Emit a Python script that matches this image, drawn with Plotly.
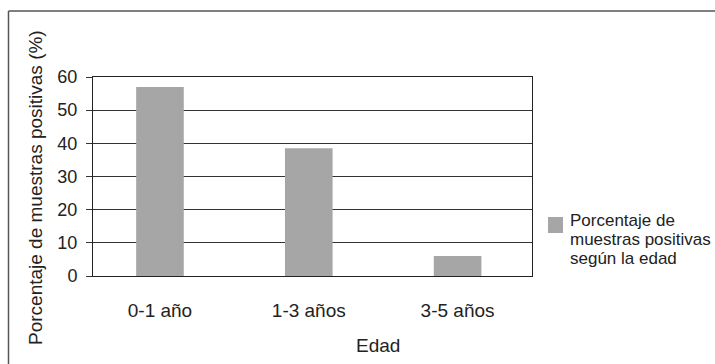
import plotly.graph_objects as go

categories = ["0-1 año", "1-3 años", "3-5 años"]
values = [57, 38.5, 6]
legend_lines = ["Porcentaje de", "muestras positivas", "según la edad"]
y_ticks = [0, 10, 20, 30, 40, 50, 60]

W, H = 715, 364
L, R, T, B = 93, 183, 77, 88
pw, ph = W - L - R, H - T - B

def px_x(x):
    return (x - L) / pw

def px_y(y):
    return (H - B - y) / ph

FONT = "Liberation Sans, Arial, sans-serif"
BAR = "#a6a6a6"
TXT = "#222"

fig = go.Figure()
fig.add_trace(go.Bar(
    x=categories, y=values, name=" ".join(legend_lines),
    marker=dict(color=BAR, line=dict(width=0)),
    showlegend=False,
))

annotations = [
    dict(text="Porcentaje de muestras positivas (%)", textangle=-90,
         xref="paper", yref="paper", x=px_x(35), y=px_y(188),
         xanchor="center", yanchor="middle", showarrow=False,
         font=dict(size=19, color=TXT)),
    dict(text="Edad", xref="paper", yref="paper", x=px_x(378), y=px_y(345),
         xanchor="center", yanchor="middle", showarrow=False,
         font=dict(size=19, color=TXT)),
]
# legend text (tight line spacing as in the reference)
for i, line in enumerate(legend_lines):
    annotations.append(dict(
        text=line, xref="paper", yref="paper", x=px_x(568),
        y=px_y(220 + 19 * i), xanchor="left", yanchor="middle",
        showarrow=False, font=dict(size=17, color=TXT)))

fig.update_layout(
    width=W, height=H,
    margin=dict(l=L, r=R, t=T, b=B, autoexpand=False),
    paper_bgcolor="white", plot_bgcolor="white",
    font=dict(family=FONT, size=18, color=TXT),
    bargap=0.68,
    showlegend=False,
    xaxis=dict(range=[-0.45, 2.5], showgrid=False, showline=True, mirror=True,
               linecolor="#222", linewidth=1, ticks="", ticklabelstandoff=17,
               tickfont=dict(size=19)),
    yaxis=dict(range=[0, 60], tickvals=y_ticks, showgrid=True, gridcolor="#333",
               gridwidth=1, showline=True, mirror=True, linecolor="#222",
               linewidth=1, ticks="outside", ticklen=6, tickcolor="#333",
               ticklabelstandoff=5, tickfont=dict(size=18), zeroline=False),
    annotations=annotations,
    shapes=[
        dict(type="line", xref="paper", yref="paper", x0=px_x(8.5), x1=px_x(8.5),
             y0=px_y(11), y1=px_y(370), line=dict(color="#555", width=1.5)),
        dict(type="line", xref="paper", yref="paper", x0=px_x(8.5), x1=px_x(720),
             y0=px_y(11), y1=px_y(11), line=dict(color="#555", width=1.5)),
        # legend swatch
        dict(type="rect", xref="paper", yref="paper", x0=px_x(548), x1=px_x(563),
             y0=px_y(217), y1=px_y(233), line=dict(width=0), fillcolor=BAR),
    ],
)

fig.write_html("out.html")
